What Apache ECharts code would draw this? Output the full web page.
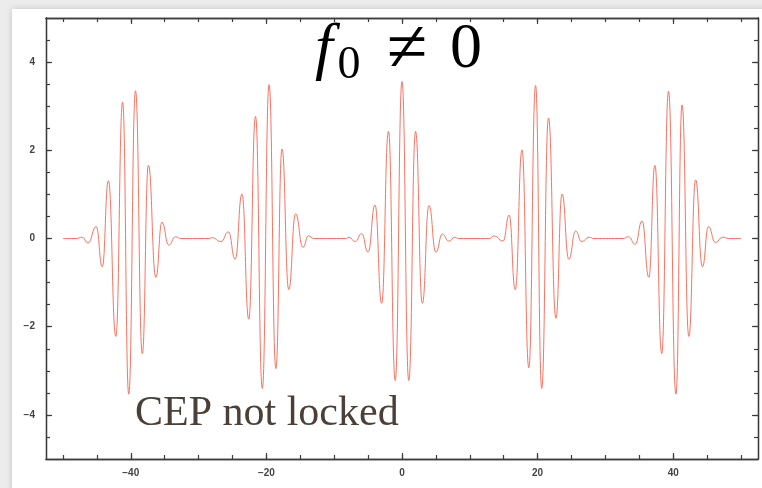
<!DOCTYPE html>
<html>
<head>
<meta charset="utf-8">
<script src="https://cdn.jsdelivr.net/npm/echarts@6/dist/echarts.min.js"></script>
<style>
  html, body { margin: 0; padding: 0; background: #ececec; }
  #chart { width: 762px; height: 488px; }
</style>
</head>
<body>
<div id="chart"></div>
<script>
// Pulse train: extrema of each pulse (time, field)
const pulse1X = [-50, -48, -47.2, -46.3, -45.1, -44.2, -43.3, -42.2, -41.2, -40.3, -39.3, -38.3, -37.4, -36.3, -35.4, -34.4, -33.4, -32.6];
const pulse1Y = [0, 0, 0.03, -0.10, 0.27, -0.64, 1.31, -2.22, 3.09, -3.53, 3.35, -2.61, 1.66, -0.88, 0.37, -0.15, 0.04, 0];
const pulse2X = [-28.4, -28.0, -26.7, -25.6, -24.6, -23.6, -22.6, -21.6, -20.6, -19.6, -18.6, -17.7, -16.7, -15.7, -14.6, -13.8, -13.0];
const pulse2Y = [0, 0.02, -0.07, 0.15, -0.47, 1.01, -1.83, 2.77, -3.40, 3.49, -2.95, 2.03, -1.16, 0.56, -0.20, 0.06, 0];
const pulse3X = [-8.3, -7.8, -6.9, -5.95, -5.0, -3.98, -3.0, -2.0, -1.0, 0, 1.0, 2.0, 3.0, 3.98, 5.0, 5.95, 6.9, 7.8, 8.3];
const pulse3Y = [0, 0.03, -0.07, 0.11, -0.31, 0.76, -1.47, 2.43, -3.22, 3.56, -3.22, 2.43, -1.47, 0.75, -0.31, 0.10, -0.06, 0.03, 0];
const pulse4X = [12.9, 13.6, 14.9, 15.8, 16.7, 17.7, 18.7, 19.7, 20.6, 21.6, 22.7, 23.6, 24.6, 25.6, 26.5, 27.6, 28.3];
const pulse4Y = [0, 0.06, -0.06, 0.53, -1.16, 2.01, -2.93, 3.47, -3.40, 2.73, -1.81, 1.01, -0.47, 0.17, -0.07, 0.03, 0];
const pulse5X = [32.6, 33.4, 34.4, 35.4, 36.4, 37.3, 38.3, 39.3, 40.4, 41.3, 42.3, 43.3, 44.3, 45.2, 46.2, 47.3, 48.2, 50];
const pulse5Y = [0, 0.04, -0.13, 0.40, -0.88, 1.66, -2.61, 3.34, -3.53, 3.03, -2.22, 1.33, -0.64, 0.27, -0.09, 0.03, 0, 0];

// Axis ticks and labels
const xLabelValues = [-40, -20, 0, 20, 40];
const xMinorTicks = [-50, -45, -40, -35, -30, -25, -20, -15, -10, -5, 0, 5, 10, 15, 20, 25, 30, 35, 40, 45, 50];
const yLabelValues = [-4, -2, 0, 2, 4];
const yMinorTicks = [-4.5, -4, -3.5, -3, -2.5, -2, -1.5, -1, -0.5, 0, 0.5, 1, 1.5, 2, 2.5, 3, 3.5, 4, 4.5];

const titleMain = 'f';
const titleSub = '0';
const titleRel = '≠';
const titleRhs = '0';
const noteText = 'CEP not locked';

const xs = [].concat(pulse1X, pulse2X, pulse3X, pulse4X, pulse5X);
const ys = [].concat(pulse1Y, pulse2Y, pulse3Y, pulse4Y, pulse5Y);
const lineData = xs.map((x, i) => [x, ys[i]]);

const frameColor = '#3c3c3c';
const fmt = v => (v < 0 ? '\u2212' + Math.abs(v) : String(v));
const labelStyle = { fontFamily: 'Liberation Sans', fontWeight: 'bold', fontSize: 10, color: '#444' };

function xAx(pos, ticks, len, labels) {
  return {
    type: 'value', position: pos, min: -52.5, max: 52.5,
    axisLine: { show: true, onZero: false, lineStyle: { color: frameColor, width: 1.3 } },
    axisTick: { show: true, inside: true, length: len, customValues: ticks, lineStyle: { color: frameColor, width: 1.2 } },
    axisLabel: labels ? Object.assign({ show: true, customValues: labels, formatter: fmt, margin: 9 }, labelStyle) : { show: false },
    splitLine: { show: false }
  };
}
function yAx(pos, ticks, len, labels) {
  return {
    type: 'value', position: pos, min: -5, max: 5,
    axisLine: { show: true, onZero: false, lineStyle: { color: frameColor, width: 1.3 } },
    axisTick: { show: true, inside: true, length: len, customValues: ticks, lineStyle: { color: frameColor, width: 1.2 } },
    axisLabel: labels ? Object.assign({ show: true, customValues: labels, formatter: fmt, margin: 11 }, labelStyle) : { show: false },
    splitLine: { show: false }
  };
}

const chart = echarts.init(document.getElementById('chart'), null, { renderer: 'canvas' });
chart.setOption({
  backgroundColor: '#ececec',
  animation: false,
  grid: { left: 46, right: 4, top: 18, bottom: 29, containLabel: false },
  xAxis: [
    xAx('bottom', xLabelValues, 6, xLabelValues),
    xAx('bottom', xMinorTicks, 4, null),
    xAx('top', xLabelValues, 6, null),
    xAx('top', xMinorTicks, 4, null)
  ],
  yAxis: [
    yAx('left', yLabelValues, 6, yLabelValues),
    yAx('left', yMinorTicks, 4, null),
    yAx('right', yLabelValues, 6, null),
    yAx('right', yMinorTicks, 4, null)
  ],
  series: [{
    type: 'line', xAxisIndex: 0, yAxisIndex: 0,
    data: lineData, showSymbol: false, smooth: 0.5, smoothMonotone: 'x',
    lineStyle: { color: '#fb7260', width: 1 },
    z: 3
  }],
  graphic: [
    { type: 'rect', z: -100, silent: true,
      shape: { x: 12, y: 9, width: 760, height: 490 },
      style: { fill: '#ffffff', shadowBlur: 6, shadowColor: 'rgba(0,0,0,0.18)' } },
    { type: 'text', z: 100, x: 324, y: 50, silent: true,
      style: { text: titleMain, font: 'italic 64px "Liberation Serif"', fill: '#000', textAlign: 'center', textVerticalAlign: 'middle' } },
    { type: 'text', z: 100, x: 349, y: 66, silent: true,
      style: { text: titleSub, font: '46px "Liberation Serif"', fill: '#000', textAlign: 'center', textVerticalAlign: 'middle' } },
    { type: 'text', z: 100, x: 407, y: 52, silent: true,
      style: { text: titleRel, font: '74px "Liberation Serif"', fill: '#000', textAlign: 'center', textVerticalAlign: 'middle' } },
    { type: 'text', z: 100, x: 466, y: 50.5, silent: true,
      style: { text: titleRhs, font: '64px "Liberation Serif"', fill: '#000', textAlign: 'center', textVerticalAlign: 'middle' } },
    { type: 'text', z: 100, x: 135, y: 413.5, silent: true,
      style: { text: noteText, font: '42px "Liberation Serif"', fill: '#4a4038', textAlign: 'left', textVerticalAlign: 'middle' } }
  ]
});
</script>
</body>
</html>
